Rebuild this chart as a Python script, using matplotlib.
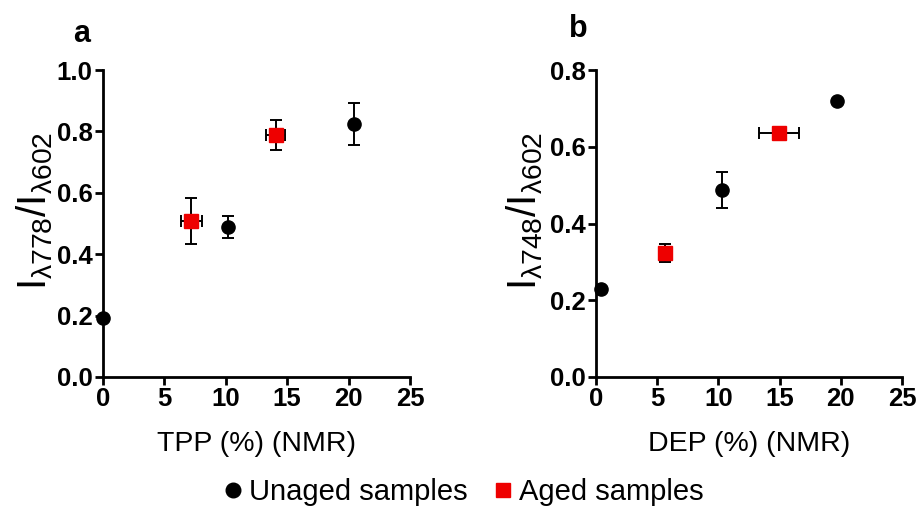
import matplotlib
matplotlib.use("Agg")
import matplotlib.pyplot as plt
from matplotlib.lines import Line2D

plt.rcParams['font.family'] = ['Liberation Sans', 'DejaVu Sans']
plt.rcParams['mathtext.fontset'] = 'custom'
plt.rcParams['mathtext.rm'] = 'Liberation Sans'
plt.rcParams['mathtext.it'] = 'Liberation Sans'

# Panel a: TPP content vs I778/I602 ratio
tpp_unaged_x = [0.0, 10.2, 20.45]
tpp_unaged_y = [0.192, 0.489, 0.824]
tpp_unaged_yerr = [0.0, 0.036, 0.068]
tpp_unaged_xerr = [0.0, 0.0, 0.0]

tpp_aged_x = [7.2, 14.05]
tpp_aged_y = [0.508, 0.787]
tpp_aged_yerr = [0.074, 0.049]
tpp_aged_xerr = [0.85, 0.75]

# Panel b: DEP content vs I748/I602 ratio
dep_unaged_x = [0.43, 10.3, 19.7]
dep_unaged_y = [0.229, 0.487, 0.720]
dep_unaged_yerr = [0.0, 0.046, 0.0]
dep_unaged_xerr = [0.0, 0.0, 0.0]

dep_aged_x = [5.6, 14.95]
dep_aged_y = [0.323, 0.635]
dep_aged_yerr = [0.024, 0.0]
dep_aged_xerr = [0.0, 1.6]

x_ticks = [0, 5, 10, 15, 20, 25]
a_yticks = [0.0, 0.2, 0.4, 0.6, 0.8, 1.0]
b_yticks = [0.0, 0.2, 0.4, 0.6, 0.8]

W, H = 918, 514
fig = plt.figure(figsize=(W / 100, H / 100), dpi=100)

ax_a = fig.add_axes([103 / W, 1 - 377 / H, (410 - 103) / W, (377 - 70) / H])
ax_b = fig.add_axes([596 / W, 1 - 377 / H, (902 - 596) / W, (377 - 70) / H])

err_kw = dict(ecolor='black', elinewidth=1.4, capsize=4.5, capthick=1.4,
              linestyle='none', zorder=3)


def draw(ax, ux, uy, uxe, uye, ax_, ay, axe, aye):
    ax.errorbar(ux, uy, xerr=uxe, yerr=uye, marker='o', markersize=9.5,
                markerfacecolor='black', markeredgecolor='black', **err_kw)
    ax.errorbar(ax_, ay, xerr=axe, yerr=aye, marker='s', markersize=10.5,
                markerfacecolor='#ee0000', markeredgecolor='#ee0000', **err_kw)


draw(ax_a, tpp_unaged_x, tpp_unaged_y, tpp_unaged_xerr, tpp_unaged_yerr,
     tpp_aged_x, tpp_aged_y, tpp_aged_xerr, tpp_aged_yerr)
draw(ax_b, dep_unaged_x, dep_unaged_y, dep_unaged_xerr, dep_unaged_yerr,
     dep_aged_x, dep_aged_y, dep_aged_xerr, dep_aged_yerr)

for ax, yt, ymax in [(ax_a, a_yticks, 1.0), (ax_b, b_yticks, 0.8)]:
    ax.set_xlim(0, 25)
    ax.set_ylim(0, ymax)
    ax.set_xticks(x_ticks)
    ax.set_yticks(yt)
    ax.set_yticklabels([f"{v:.1f}" for v in yt])
    for s in ('top', 'right'):
        ax.spines[s].set_visible(False)
    for s in ('left', 'bottom'):
        ax.spines[s].set_linewidth(2.0)
    ax.tick_params(width=2.0, length=6, labelsize=18.5, pad=1.5)
    for lbl in ax.get_xticklabels() + ax.get_yticklabels():
        lbl.set_fontweight('bold')
    for p in ax.collections + ax.lines:
        p.set_clip_on(False)

ax_a.set_xlabel('TPP (%) (NMR)', fontsize=20.5, labelpad=14)
ax_b.set_xlabel('DEP (%) (NMR)', fontsize=20.5, labelpad=14)
ax_a.set_ylabel(r'$\mathregular{I_{\lambda778}/I_{\lambda602}}$', fontsize=29)
ax_b.set_ylabel(r'$\mathregular{I_{\lambda748}/I_{\lambda602}}$', fontsize=29)
ax_a.yaxis.set_label_coords(-0.157, 0.54)
ax_b.yaxis.set_label_coords(-0.167, 0.54)

fig.text(82 / W, 1 - 42 / H, 'a', fontsize=22, fontweight='bold', ha='center', va='baseline')
fig.text(578 / W, 1 - 37 / H, 'b', fontsize=22, fontweight='bold', ha='center', va='baseline')

handles = [
    Line2D([], [], marker='o', color='black', linestyle='none', markersize=10.5),
    Line2D([], [], marker='s', color='#ee0000', linestyle='none', markersize=10.5),
]
fig.legend(handles, ['Unaged samples', 'Aged samples'], loc='center',
           bbox_to_anchor=(461 / W, 1 - 492 / H), ncol=2, frameon=False,
           fontsize=21, handletextpad=0.05, columnspacing=0.7, handlelength=1.0,
           borderpad=0.1)

fig.savefig('out.png', dpi=100)
